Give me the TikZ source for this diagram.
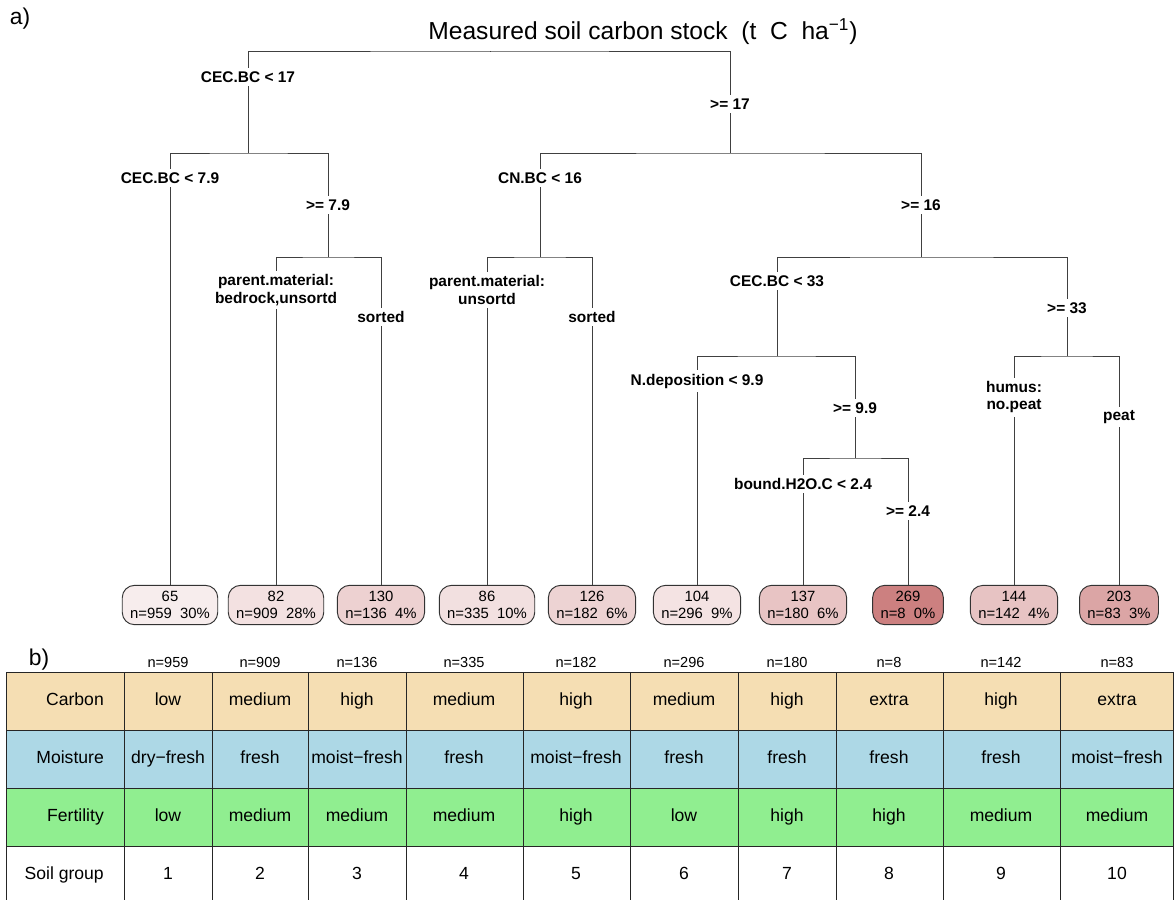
\documentclass[tikz,border=0pt]{standalone}
\usepackage{fontspec}
\setmainfont{Liberation Sans}
\definecolor{lfa}{HTML}{F7EDED}
\definecolor{lfb}{HTML}{F3E1E1}
\definecolor{lfc}{HTML}{EDD1D1}
\definecolor{lfd}{HTML}{F2E0E0}
\definecolor{lfe}{HTML}{EDD3D3}
\definecolor{lff}{HTML}{F4E3E3}
\definecolor{lfg}{HTML}{E8C4C4}
\definecolor{lfh}{HTML}{CC8080}
\definecolor{lfi}{HTML}{E7C3C3}
\definecolor{lfj}{HTML}{DBA5A5}
\definecolor{wheat}{HTML}{F5DEB3}
\definecolor{lightblue}{HTML}{ADD8E6}
\definecolor{lightgreen}{HTML}{90EE90}
\begin{document}
\begin{tikzpicture}[x=0.02cm,y=-0.02cm,
    edge/.style={draw=black!75,line width=0.55pt},
    splitlab/.style={fill=white,inner xsep=1pt,inner ysep=2pt,align=center,font=\fontsize{8.8}{10}\selectfont\bfseries},
    leafbox/.style={draw=black!80,line width=0.55pt,rounded corners=7pt,align=center,inner xsep=4.5pt,inner ysep=3.4pt,font=\fontsize{8.45}{9.6}\selectfont},
    cell/.style={font=\fontsize{10}{12}\selectfont,text height=7.3pt,text depth=2pt},
    ncount/.style={font=\fontsize{8.3}{10}\selectfont,text height=6pt,text depth=0pt},
    tabline/.style={draw=black!85,line width=0.55pt}]
    \useasboundingbox (0,0) rectangle (1174,900);
    \node[font=\fontsize{13}{15}\selectfont] (pa) at (20,19) {a)};
    \node[font=\fontsize{14}{16}\selectfont] (title) at (643,32) {Measured soil carbon stock\ \ (t\ \ C\ \ ha\textsuperscript{−1})};
        \coordinate (r) at (490,51);
        \coordinate (s1) at (248,153);
        \coordinate (s2) at (730,153);
        \coordinate (s3) at (328,257);
        \coordinate (s4) at (540,257);
        \coordinate (s5) at (921,257);
        \coordinate (s6) at (777,356);
        \coordinate (s7) at (1067,356);
        \coordinate (s8) at (855,458);
    \node[leafbox,fill=lfa] (l1) at (170,605) {65\\n=959\ \ 30\%};
    \node[leafbox,fill=lfb] (l2) at (276,605) {82\\n=909\ \ 28\%};
    \node[leafbox,fill=lfc] (l3) at (381,605) {130\\n=136\ \ 4\%};
    \node[leafbox,fill=lfd] (l4) at (487,605) {86\\n=335\ \ 10\%};
    \node[leafbox,fill=lfe] (l5) at (592,605) {126\\n=182\ \ 6\%};
    \node[leafbox,fill=lff] (l6) at (697,605) {104\\n=296\ \ 9\%};
    \node[leafbox,fill=lfg] (l7) at (803,605) {137\\n=180\ \ 6\%};
    \node[leafbox,fill=lfh] (l8) at (908,605) {269\\n=8\ \ 0\%};
    \node[leafbox,fill=lfi] (l9) at (1014,605) {144\\n=142\ \ 4\%};
    \node[leafbox,fill=lfj] (l10) at (1119,605) {203\\n=83\ \ 3\%};
        \draw[edge] (r) -- (r |- title.south);
        \draw[edge] (s1) |- (r) -| (s2);
        \draw[edge] (l1) |- (s1) -| (s3);
        \draw[edge] (l2) |- (s3) -| (l3);
        \draw[edge] (s4) |- (s2) -| (s5);
        \draw[edge] (l4) |- (s4) -| (l5);
        \draw[edge] (s6) |- (s5) -| (s7);
        \draw[edge] (l6) |- (s6) -| (s8);
        \draw[edge] (l7) |- (s8) -| (l8);
        \draw[edge] (l9) |- (s7) -| (l10);
    \node[splitlab] (t1) at (248,77) {CEC.BC < 17};
    \node[splitlab] (t2) at (730,104) {>= 17};
    \node[splitlab] (t3) at (170,178) {CEC.BC < 7.9};
    \node[splitlab] (t4) at (328,205) {>= 7.9};
    \node[splitlab] (t5) at (276,290) {parent.material:\\bedrock,unsortd};
    \node[splitlab] (t6) at (381,317) {sorted};
    \node[splitlab] (t7) at (540,178) {CN.BC < 16};
    \node[splitlab] (t8) at (921,205) {>= 16};
    \node[splitlab] (t9) at (487,290) {parent.material:\\unsortd};
    \node[splitlab] (t10) at (592,317) {sorted};
    \node[splitlab] (t11) at (777,281) {CEC.BC < 33};
    \node[splitlab] (t12) at (1067,308) {>= 33};
    \node[splitlab] (t13) at (697,381) {N.deposition < 9.9};
    \node[splitlab] (t14) at (855,408) {>= 9.9};
    \node[splitlab] (t15) at (803,484) {bound.H2O.C < 2.4};
    \node[splitlab] (t16) at (908,511) {>= 2.4};
    \node[splitlab] (t17) at (1014,397) {humus:\\no.peat};
    \node[splitlab] (t18) at (1119,417) {peat};
    \node[font=\fontsize{13}{15}\selectfont] (pb) at (39,660) {b)};
        \fill[wheat] (6,672) rectangle (1174,730);
        \fill[lightblue] (6,730) rectangle (1174,788);
        \fill[lightgreen] (6,788) rectangle (1174,846);
        \draw[tabline] (6,672) -- (1174,672);
        \draw[tabline] (6,730) -- (1174,730);
        \draw[tabline] (6,788) -- (1174,788);
        \draw[tabline] (6,846) -- (1174,846);
        \draw[tabline] (6,672) -- (6,900);
        \draw[tabline] (124,672) -- (124,900);
        \draw[tabline] (212,672) -- (212,900);
        \draw[tabline] (308,672) -- (308,900);
        \draw[tabline] (406,672) -- (406,900);
        \draw[tabline] (523,672) -- (523,900);
        \draw[tabline] (630,672) -- (630,900);
        \draw[tabline] (738,672) -- (738,900);
        \draw[tabline] (836,672) -- (836,900);
        \draw[tabline] (943,672) -- (943,900);
        \draw[tabline] (1060,672) -- (1060,900);
        \draw[tabline] (1173.5,672) -- (1173.5,900);
    \node[ncount] (n1) at (168,662) {n=959};
    \node[ncount] (n2) at (260,662) {n=909};
    \node[ncount] (n3) at (357,662) {n=136};
    \node[ncount] (n4) at (464,662) {n=335};
    \node[ncount] (n5) at (576,662) {n=182};
    \node[ncount] (n6) at (684,662) {n=296};
    \node[ncount] (n7) at (787,662) {n=180};
    \node[ncount] (n8) at (889,662) {n=8};
    \node[ncount] (n9) at (1001,662) {n=142};
    \node[ncount] (n10) at (1117,662) {n=83};
    \node[cell,anchor=east] (carb) at (110,701) {Carbon};
    \node[cell,anchor=east] (moist) at (110,759) {Moisture};
    \node[cell,anchor=east] (fert) at (110,817) {Fertility};
    \node[cell,anchor=east] (grp) at (110,875) {Soil group};
    \node[cell] (carb1) at (168,701) {low};
    \node[cell] (carb2) at (260,701) {medium};
    \node[cell] (carb3) at (357,701) {high};
    \node[cell] (carb4) at (464,701) {medium};
    \node[cell] (carb5) at (576,701) {high};
    \node[cell] (carb6) at (684,701) {medium};
    \node[cell] (carb7) at (787,701) {high};
    \node[cell] (carb8) at (889,701) {extra};
    \node[cell] (carb9) at (1001,701) {high};
    \node[cell] (carb10) at (1117,701) {extra};
    \node[cell] (moist1) at (168,759) {dry−fresh};
    \node[cell] (moist2) at (260,759) {fresh};
    \node[cell] (moist3) at (357,759) {moist−fresh};
    \node[cell] (moist4) at (464,759) {fresh};
    \node[cell] (moist5) at (576,759) {moist−fresh};
    \node[cell] (moist6) at (684,759) {fresh};
    \node[cell] (moist7) at (787,759) {fresh};
    \node[cell] (moist8) at (889,759) {fresh};
    \node[cell] (moist9) at (1001,759) {fresh};
    \node[cell] (moist10) at (1117,759) {moist−fresh};
    \node[cell] (fert1) at (168,817) {low};
    \node[cell] (fert2) at (260,817) {medium};
    \node[cell] (fert3) at (357,817) {medium};
    \node[cell] (fert4) at (464,817) {medium};
    \node[cell] (fert5) at (576,817) {high};
    \node[cell] (fert6) at (684,817) {low};
    \node[cell] (fert7) at (787,817) {high};
    \node[cell] (fert8) at (889,817) {high};
    \node[cell] (fert9) at (1001,817) {medium};
    \node[cell] (fert10) at (1117,817) {medium};
    \node[cell] (grp1) at (168,875) {1};
    \node[cell] (grp2) at (260,875) {2};
    \node[cell] (grp3) at (357,875) {3};
    \node[cell] (grp4) at (464,875) {4};
    \node[cell] (grp5) at (576,875) {5};
    \node[cell] (grp6) at (684,875) {6};
    \node[cell] (grp7) at (787,875) {7};
    \node[cell] (grp8) at (889,875) {8};
    \node[cell] (grp9) at (1001,875) {9};
    \node[cell] (grp10) at (1117,875) {10};
\end{tikzpicture}
\end{document}
